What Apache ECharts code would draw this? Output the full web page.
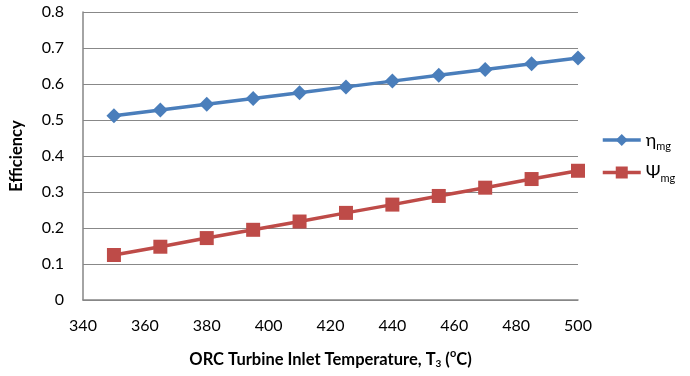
<!DOCTYPE html>
<html>
<head>
<meta charset="utf-8">
<script src="https://cdn.jsdelivr.net/npm/echarts@6/dist/echarts.min.js"></script>
<style>
  html, body { margin: 0; padding: 0; background: #fff; }
  #chart { width: 690px; height: 376px; }
</style>
</head>
<body>
<div id="chart"></div>
<script>
// turbine inlet temperature T3 (°C)
var temps = [350, 365, 380, 395, 410, 425, 440, 455, 470, 485, 500];
// energy efficiency eta_mg
var etaMg = [0.512, 0.528, 0.544, 0.560, 0.576, 0.592, 0.608, 0.624, 0.640, 0.656, 0.672];
// exergy efficiency psi_mg
var psiMg = [0.125, 0.148, 0.172, 0.195, 0.218, 0.242, 0.265, 0.289, 0.312, 0.336, 0.359];

var FONT = "Lato, 'Open Sans', sans-serif";

function pairs(xs, ys) {
  return xs.map(function (x, i) { return [x, ys[i]]; });
}

var chart = echarts.init(document.getElementById("chart"));
chart.setOption({
  animation: false,
  grid: { left: 82, right: 112, top: 12, bottom: 76 },
  legend: {
    orient: "vertical",
    left: 596,
    top: 126,
    itemGap: 12,
    itemWidth: 38,
    itemHeight: 15,
    data: ["eta", "psi"],
    lineStyle: { width: 3.5 },
    formatter: function (name) {
      return name === "eta" ? "{m|η}{s|mg}" : "{m|Ψ}{s|mg}";
    },
    textStyle: {
      fontFamily: FONT,
      color: "#000",
      rich: {
        m: { fontSize: 18, fontFamily: FONT, color: "#000" },
        s: { fontSize: 11, fontFamily: FONT, color: "#000", padding: [12, 0, 0, 0] }
      }
    }
  },
  xAxis: {
    type: "value",
    min: 340,
    max: 500,
    interval: 20,
    name: "ORC Turbine Inlet Temperature, T{sub|3} ({sup|o}C)",
    nameLocation: "middle",
    nameGap: 48,
    nameTextStyle: {
      fontFamily: FONT,
      fontWeight: "bold",
      fontSize: 16.5,
      color: "#000",
      rich: {
        sub: { fontFamily: FONT, fontWeight: "bold", fontSize: 10, color: "#000", padding: [9, 0, 0, 0] },
        sup: { fontFamily: FONT, fontWeight: "bold", fontSize: 11, color: "#000", padding: [0, 0, 12, 0] }
      }
    },
    axisLine: { lineStyle: { color: "#868686", width: 1.5 } },
    axisTick: { show: false },
    splitLine: { show: false },
    axisLabel: { fontFamily: FONT, fontSize: 16, color: "#000", margin: 18 }
  },
  yAxis: {
    type: "value",
    min: 0,
    max: 0.8,
    interval: 0.1,
    name: "Efficiency",
    nameLocation: "middle",
    nameGap: 58,
    nameTextStyle: { fontFamily: FONT, fontWeight: "bold", fontSize: 16.5, color: "#000" },
    axisLine: { show: true, lineStyle: { color: "#868686", width: 1.5 } },
    axisTick: { show: false },
    splitLine: { lineStyle: { color: "#888888", width: 1.2 } },
    axisLabel: { fontFamily: FONT, fontSize: 16, color: "#000", margin: 19 }
  },
  series: [
    {
      name: "eta",
      type: "line",
      data: pairs(temps, etaMg),
      symbol: "diamond",
      symbolSize: 15,
      lineStyle: { color: "#4a7ebb", width: 3.5 },
      itemStyle: { color: "#4a7ebb" }
    },
    {
      name: "psi",
      type: "line",
      data: pairs(temps, psiMg),
      symbol: "rect",
      symbolSize: 14,
      lineStyle: { color: "#be4b48", width: 3.5 },
      itemStyle: { color: "#be4b48" }
    }
  ]
});
</script>
</body>
</html>
